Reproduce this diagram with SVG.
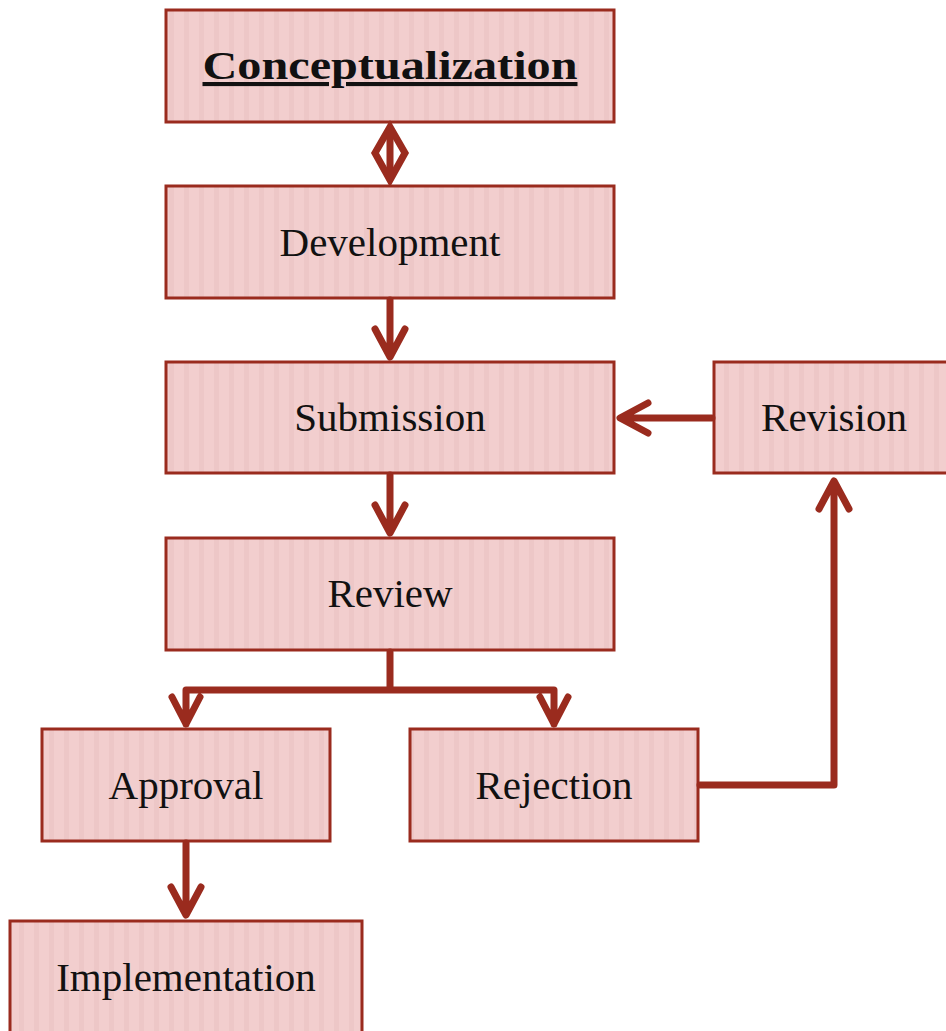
<svg xmlns="http://www.w3.org/2000/svg" width="946" height="1031" viewBox="0 0 946 1031">
<defs>
<pattern id="stripes" x="0" y="0" width="15" height="20" patternUnits="userSpaceOnUse">
<rect width="15" height="20" fill="#f2cece"/>
<rect x="4" width="5" height="20" fill="#e9c1c1" opacity="0.55"/>
</pattern>
<style>
.box{fill:url(#stripes);stroke:#9a2b1e;stroke-width:3}
.lbl{font-family:"Liberation Serif","Times New Roman",serif;font-size:41px;fill:#111;text-anchor:middle}
.con{fill:none;stroke:#9a2b1e;stroke-width:7;stroke-linecap:round;stroke-linejoin:round}
</style>
</defs>
<rect width="946" height="1031" fill="#fff"/>
<g id="conceptualization">
<rect class="box" x="166" y="10" width="448" height="112"/>
<text class="lbl" x="390" y="79" font-weight="bold" text-decoration="underline" textLength="375" lengthAdjust="spacingAndGlyphs">Conceptualization</text>
</g>
<g id="development">
<rect class="box" x="166" y="186" width="448" height="112"/>
<text class="lbl" x="390" y="256">Development</text>
</g>
<g id="submission">
<rect class="box" x="166" y="362" width="448" height="111"/>
<text class="lbl" x="390" y="431">Submission</text>
</g>
<g id="review">
<rect class="box" x="166" y="538" width="448" height="112"/>
<text class="lbl" x="390" y="607">Review</text>
</g>
<g id="revision">
<rect class="box" x="714" y="362" width="240" height="111"/>
<text class="lbl" x="834" y="431">Revision</text>
</g>
<g id="approval">
<rect class="box" x="42" y="729" width="288" height="112"/>
<text class="lbl" x="186" y="799">Approval</text>
</g>
<g id="rejection">
<rect class="box" x="410" y="729" width="288" height="112"/>
<text class="lbl" x="554" y="799">Rejection</text>
</g>
<g id="implementation">
<rect class="box" x="10" y="921" width="352" height="120"/>
<text class="lbl" x="186" y="991">Implementation</text>
</g>
<g id="connectors">
<path class="con" d="M390 127 L405 153 L390 180 L375 153 Z" style="stroke-linejoin:miter"/>
<path class="con" d="M390 130 V178"/>
<path class="con" d="M390 300 V356 M375 329 L390 357 L405 329"/>
<path class="con" d="M390 475 V532 M375 505 L390 533 L405 505"/>
<path class="con" d="M712 418 H622 M648 403 L620 418 L648 433"/>
<path class="con" d="M390 652 V690 M186 724 V690 H554 V724 M172 697 L186 724 L200 697 M540 697 L554 724 L568 697"/>
<path class="con" d="M186 843 V914 M171 887 L186 915 L201 887"/>
<path class="con" d="M700 785 H834 V482 M819 509 L834 481 L849 509"/>
</g>
</svg>
